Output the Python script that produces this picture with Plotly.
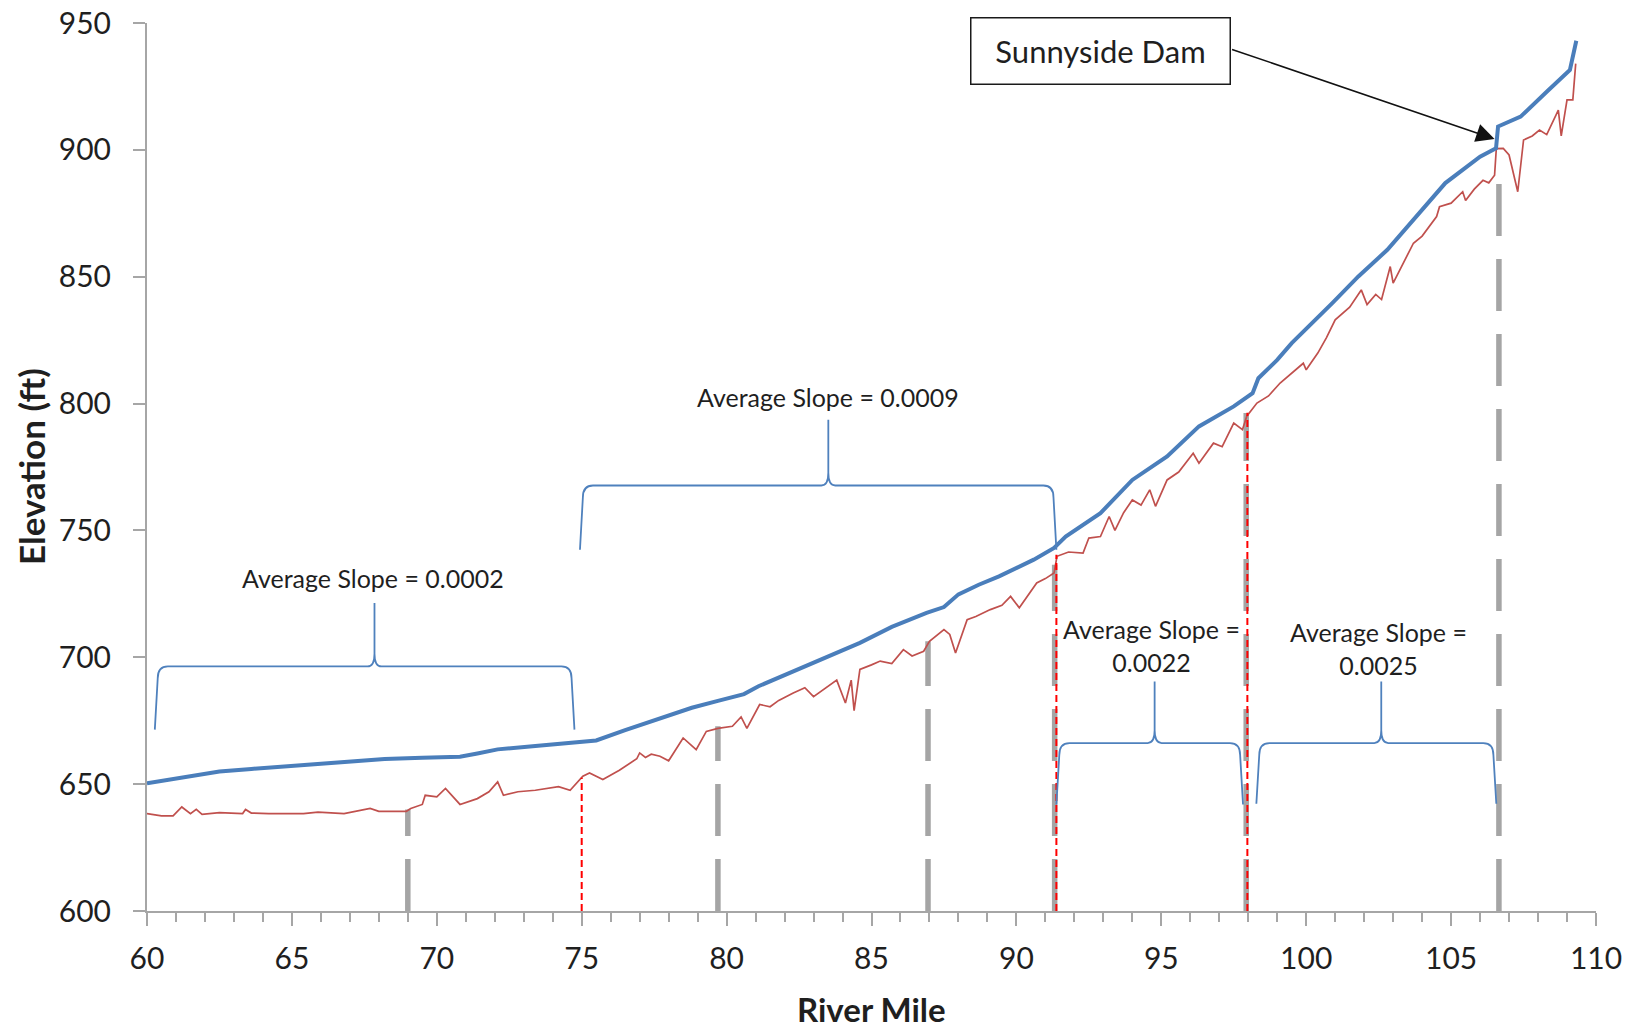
import plotly.graph_objects as go

# ---------------- data ----------------
ws_mile = [60.0, 61.0, 61.6, 62.5, 63.6, 64.5, 65.5, 66.8, 68.2, 69.5, 70.8, 71.4, 72.1, 73.4,
           74.7, 75.5, 76.5, 77.7, 78.8, 79.7, 80.6, 81.1, 82.3, 83.4, 84.6, 85.7, 86.9, 87.5,
           88.0, 88.7, 89.4, 90.6, 91.3, 91.7, 92.9, 94.0, 95.2, 96.3, 97.5, 98.15, 98.35, 99.0,
           99.5, 100.9, 101.8, 102.8, 104.1, 104.8, 106.0, 106.55, 106.62, 107.4, 108.3, 109.1, 109.32]
ws_elev = [650.3, 652.3, 653.6, 655.0, 656.0, 656.7, 657.5, 658.8, 659.9, 660.4, 660.8, 662.1, 663.7, 665.0,
           666.4, 667.2, 671.3, 676.1, 680.1, 682.8, 685.5, 688.6, 694.5, 699.7, 705.7, 712.0, 717.5, 719.8,
           724.8, 728.6, 731.9, 738.5, 743.1, 747.6, 756.8, 769.9, 779.2, 791.0, 798.9, 804.1, 810.0, 817.2,
           823.8, 839.6, 850.1, 860.6, 877.6, 886.9, 897.3, 900.6, 909.2, 913.1, 922.9, 931.5, 943.0]

bed_mile = [60.0, 60.5, 60.9, 61.2, 61.5, 61.7, 61.9, 62.5, 63.3, 63.4, 63.6, 64.2, 65.4, 65.9,
            66.8, 67.7, 68.0, 68.95, 69.1, 69.5, 69.6, 70.0, 70.3, 70.8, 71.4, 71.8, 72.1, 72.3,
            72.8, 73.4, 74.2, 74.6, 75.04, 75.27, 75.73, 76.3, 76.9, 77.0, 77.2, 77.4, 77.7, 78.0,
            78.5, 78.95, 79.3, 79.7, 80.2, 80.5, 80.7, 81.14, 81.5, 81.8, 82.3, 82.7, 83.0, 83.44,
            83.8, 84.1, 84.3, 84.4, 84.6, 85.0, 85.3, 85.7, 86.1, 86.4, 86.8, 87.0, 87.5, 87.7,
            87.9, 88.3, 88.6, 89.1, 89.5, 89.8, 90.1, 90.7, 91.0, 91.3, 91.4, 91.8, 92.3, 92.5,
            92.9, 93.2, 93.4, 93.7, 94.0, 94.3, 94.6, 94.8, 95.2, 95.6, 96.1, 96.3, 96.8, 97.1,
            97.5, 97.8, 97.95, 98.3, 98.7, 99.1, 99.5, 99.9, 100.0, 100.4, 100.7, 101.0, 101.5, 101.9,
            102.1, 102.4, 102.6, 102.9, 103.0, 103.7, 104.0, 104.5, 104.6, 105.0, 105.4, 105.5, 105.8, 106.1,
            106.3, 106.5, 106.56, 106.8, 107.0, 107.3, 107.5, 107.8, 108.05, 108.3, 108.7, 108.8, 109.0, 109.2,
            109.3]
bed_elev = [638.4, 637.5, 637.5, 641.0, 638.4, 640.1, 638.1, 638.8, 638.4, 640.0, 638.6, 638.4, 638.4, 639.0,
            638.4, 640.4, 639.3, 639.3, 640.4, 642.0, 645.6, 645.0, 648.3, 642.0, 644.3, 647.0, 650.9, 645.6,
            647.0, 647.6, 649.0, 647.6, 653.1, 654.4, 651.8, 655.5, 660.0, 662.3, 660.5, 661.8, 661.0, 659.2,
            668.2, 663.6, 670.8, 672.0, 672.8, 676.5, 672.0, 681.4, 680.5, 683.0, 685.9, 688.0, 684.5, 687.9,
            691.0, 682.0, 691.0, 679.0, 695.2, 697.0, 698.5, 697.5, 703.0, 700.5, 702.4, 706.3, 710.9, 709.0,
            701.7, 714.8, 716.1, 718.8, 720.5, 724.0, 719.5, 729.3, 731.0, 733.2, 739.8, 741.5, 741.1, 747.0,
            747.6, 755.5, 750.0, 757.0, 762.0, 760.0, 766.0, 759.5, 769.9, 773.0, 780.4, 776.5, 784.4, 783.0,
            792.3, 789.7, 795.0, 800.2, 803.0, 808.1, 812.0, 815.9, 813.3, 819.9, 826.0, 833.0, 838.0, 844.8,
            839.0, 843.0, 841.0, 854.0, 847.5, 863.2, 866.0, 873.7, 877.6, 879.0, 883.5, 880.0, 884.5, 888.0,
            887.0, 890.0, 900.5, 900.6, 898.0, 883.5, 903.9, 905.5, 907.8, 906.0, 915.7, 905.5, 919.7, 919.7,
            934.0]

# vertical markers (river mile, top elevation)
gray_mile = [69.0, 79.7, 86.95, 91.32, 97.93, 106.65]
gray_top = [640.0, 672.8, 706.3, 736.5, 796.3, 889.5]
red_mile = [75.0, 91.38, 97.97]
red_top = [652.5, 740.4, 796.4]

# braces: start, end, centre, level, end level, peak level
brace_x0 = [60.27, 74.94, 91.38, 98.28]
brace_x1 = [74.75, 91.38, 97.82, 106.56]
brace_xc = [67.85, 83.51, 94.77, 102.59]
brace_yh = [696.4, 767.7, 666.2, 666.2]
brace_yend = [671.5, 742.4, 642.0, 642.3]
brace_ypk = [721.4, 793.6, 690.5, 690.5]

slope_text = ["Average Slope = 0.0002", "Average Slope = 0.0009",
              "Average Slope =<br>0.0022", "Average Slope =<br>0.0025"]
slope_x = [67.8, 83.51, 94.66, 102.5]
slope_y = [731.2, 802.6, 704.6, 703.4]

x_ticks = [60, 65, 70, 75, 80, 85, 90, 95, 100, 105, 110]
y_ticks = [600, 650, 700, 750, 800, 850, 900, 950]

x_title = "River Mile"
y_title = "Elevation (ft)"

dam_label = "Sunnyside Dam"
dam_box_x, dam_box_y = 92.89, 939.0
dam_arrow_from = (97.39, 939.8)
dam_arrow_to = (106.5, 904.3)

# ---------------- figure ----------------
FONT = "Lato"
AXIS_GRAY = "#A6A6A6"
BLUE = "#4A7EBB"
RED = "#C0504D"
BRACE = "#4F81BD"
TXT = "#1F1F1F"

fig = go.Figure()

for xm, yt in zip(gray_mile, gray_top):
    fig.add_trace(go.Scatter(x=[xm, xm], y=[600, yt], mode="lines",
                             line=dict(color="#A5A5A5", width=5.5, dash="52px,23px"),
                             hoverinfo="skip"))

fig.add_trace(go.Scatter(x=bed_mile, y=bed_elev, mode="lines",
                         line=dict(color=RED, width=1.7), hoverinfo="skip"))
fig.add_trace(go.Scatter(x=ws_mile, y=ws_elev, mode="lines",
                         line=dict(color=BLUE, width=4), hoverinfo="skip"))

for xm, yt in zip(red_mile, red_top):
    fig.add_trace(go.Scatter(x=[xm, xm], y=[600, yt], mode="lines",
                             line=dict(color="#FF0000", width=2, dash="7px,4px"),
                             hoverinfo="skip"))


def brace_path(x0, x1, xc, yh, yend, ypk):
    rh = 0.35   # corner radius, miles
    rv = 4.7    # corner radius, ft
    tilt = 0.1
    cw = 0.24
    ch = 5.0
    a = x0 + tilt
    b = x1 - tilt
    return (f"M {x0},{yend} L {a},{yh - rv} Q {a},{yh} {a + rh},{yh} "
            f"L {xc - cw},{yh} Q {xc},{yh} {xc},{yh + ch} L {xc},{ypk} "
            f"L {xc},{yh + ch} Q {xc},{yh} {xc + cw},{yh} "
            f"L {b - rh},{yh} Q {b},{yh} {b},{yh - rv} L {x1},{yend}")


shapes = []
for i in range(len(brace_x0)):
    shapes.append(dict(type="path", xref="x", yref="y",
                       path=brace_path(brace_x0[i], brace_x1[i], brace_xc[i],
                                       brace_yh[i], brace_yend[i], brace_ypk[i]),
                       line=dict(color=BRACE, width=1.8), layer="above"))

annotations = []
for t, xx, yy in zip(slope_text, slope_x, slope_y):
    annotations.append(dict(x=xx, y=yy, xref="x", yref="y", text=t, showarrow=False,
                            font=dict(family=FONT, size=25, color=TXT),
                            align="center"))

annotations.append(dict(x=dam_box_x, y=dam_box_y, xref="x", yref="y", text=dam_label,
                        showarrow=False, font=dict(family=FONT, size=31, color=TXT),
                        bgcolor="white", bordercolor="#1A1A1A", borderwidth=1.5, borderpad=0,
                        width=258, height=65, align="center", valign="middle"))
annotations.append(dict(x=dam_arrow_to[0], y=dam_arrow_to[1], xref="x", yref="y",
                        ax=dam_arrow_from[0], ay=dam_arrow_from[1], axref="x", ayref="y",
                        text="", showarrow=True, arrowhead=2, arrowsize=2.3, arrowwidth=1.6,
                        arrowcolor="#111111"))

# axis titles
annotations.append(dict(x=0.5, y=0, xref="paper", yref="paper", yshift=-98,
                        text=f"<b>{x_title}</b>", showarrow=False,
                        font=dict(family=FONT, size=33, color=TXT),
                        xanchor="center", yanchor="middle"))
annotations.append(dict(x=0, y=0.5, xref="paper", yref="paper", xshift=-116,
                        text=f"<b>{y_title}</b>", showarrow=False, textangle=-90,
                        font=dict(family=FONT, size=35, color=TXT),
                        xanchor="center", yanchor="middle"))

fig.update_layout(
    width=1639, height=1029,
    margin=dict(l=147, r=43, t=23, b=118, autoexpand=False),
    paper_bgcolor="white", plot_bgcolor="white",
    showlegend=False,
    shapes=shapes,
    annotations=annotations,
    font=dict(family=FONT, color=TXT),
)

fig.update_xaxes(
    range=[60, 110], tickvals=x_ticks, ticktext=[str(v) for v in x_ticks],
    showline=True, linecolor=AXIS_GRAY, linewidth=2,
    ticks="outside", ticklen=13, tickwidth=2, tickcolor=AXIS_GRAY,
    minor=dict(dtick=1, tick0=60, ticks="outside", ticklen=9, tickwidth=2, tickcolor=AXIS_GRAY,
               showgrid=False),
    showgrid=False, zeroline=False, automargin=False,
    tickfont=dict(family=FONT, size=30, color=TXT),
    ticklabelstandoff=7,
)
fig.update_yaxes(
    range=[600, 950], tickvals=y_ticks, ticktext=[str(v) for v in y_ticks],
    showline=True, linecolor=AXIS_GRAY, linewidth=2,
    ticks="outside", ticklen=12, tickwidth=2, tickcolor=AXIS_GRAY,
    showgrid=False, zeroline=False, automargin=False,
    tickfont=dict(family=FONT, size=30, color=TXT),
    ticklabelstandoff=16,
)

fig.write_html("out.html")
